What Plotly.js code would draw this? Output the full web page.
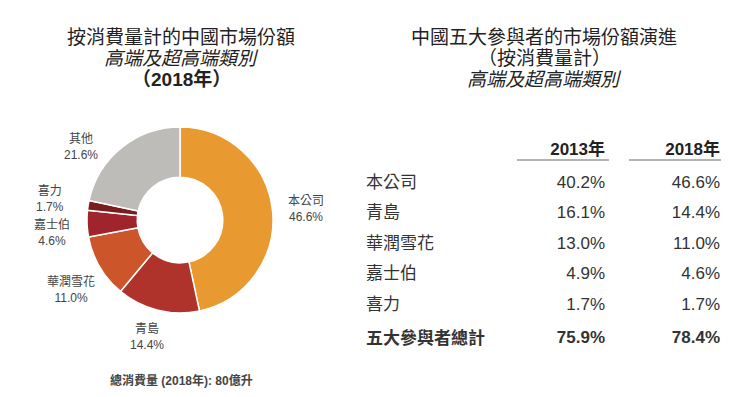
<!DOCTYPE html>
<html>
<head>
<meta charset="utf-8">
<script src="https://cdn.plot.ly/plotly-3.0.1.min.js"></script>
<style>html,body{margin:0;padding:0;background:#fff;}#chart{width:750px;height:397px;}</style>
</head>
<body>
<div id="chart"></div>
<script>
// ---- data ----
const pieLabels = ["本公司", "青島", "華潤雪花", "嘉士伯", "喜力", "其他"];
const pieValues = [46.6, 14.4, 11.0, 4.6, 1.7, 21.6];
const pieColors = ["#E89A30", "#B0332B", "#CC5529", "#A0242B", "#7A1D1D", "#BDBCB8"];

const tableRows = ["本公司", "青島", "華潤雪花", "嘉士伯", "喜力", "五大參與者總計"];
const share2013 = ["40.2%", "16.1%", "13.0%", "4.9%", "1.7%", "75.9%"];
const share2018 = ["46.6%", "14.4%", "11.0%", "4.6%", "1.7%", "78.4%"];
const tableHeaders = ["", "2013年", "2018年"];

const leftTitle = ["按消費量計的中國市場份額", "高端及超高端類別", "（2018年）"];
const rightTitle = ["中國五大參與者的市場份額演進", "（按消費量計）", "高端及超高端類別"];
const footnote = "總消費量 (2018年): 80億升";

// ---- chart ----
const FONT = "Liberation Sans, Arial, Noto Sans CJK TC, sans-serif";
const W = 750, H = 397;
const px = x => x / W;
const py = y => 1 - y / H;

// pie geometry (layout)
const PIE_CX = 180, PIE_CY = 220, PIE_R = 93, LABEL_D = 128;
// per-label pixel nudges to avoid overlaps (layout only)
const labelNudge = [[-1, 2], [-2, -8], [1, 5], [0, 7], [-4, -1], [-19, 27]];

const lastIdx = tableRows.length - 1;
const boldIf = (arr) => arr.map((v, i) => i === lastIdx ? "<b>" + v + "</b>" : v);

const pie = {
  type: "pie",
  labels: pieLabels,
  values: pieValues,
  sort: false,
  direction: "clockwise",
  rotation: 0,
  hole: 0.46,
  marker: {colors: pieColors, line: {color: "#ffffff", width: 1.5}},
  textinfo: "none",
  domain: {x: [px(PIE_CX - PIE_R), px(PIE_CX + PIE_R)], y: [py(PIE_CY + PIE_R), py(PIE_CY - PIE_R)]},
  showlegend: false,
  hoverinfo: "label+value"
};

const table = {
  type: "table",
  domain: {x: [px(358), px(728)], y: [py(360), py(131)]},
  columnwidth: [160, 95, 115],
  header: {
    values: tableHeaders.map(h => h ? "<b>" + h + "</b>" : ""),
    align: ["left", "right", "right"],
    height: 35,
    line: {color: "rgba(0,0,0,0)", width: 0},
    fill: {color: "#ffffff"},
    font: {family: FONT, size: 17, color: "#222"}
  },
  cells: {
    values: [boldIf(tableRows), boldIf(share2013), boldIf(share2018)],
    align: ["left", "right", "right"],
    height: 30.5,
    line: {color: "rgba(0,0,0,0)", width: 0},
    fill: {color: "#ffffff"},
    font: {family: FONT, size: 17, color: "#333"}
  }
};

const annotations = [];

// pie labels, placed at each slice's mid-angle computed from the values
const total = pieValues.reduce((a, b) => a + b, 0);
let cum = 0;
pieValues.forEach((v, i) => {
  const mid = (cum + v / 2) / total * 2 * Math.PI; // clockwise from top
  cum += v;
  const x = PIE_CX + LABEL_D * Math.sin(mid) + labelNudge[i][0];
  const y = PIE_CY - LABEL_D * Math.cos(mid) + labelNudge[i][1];
  annotations.push({
    text: pieLabels[i] + "<br>" + v.toFixed(1) + "%",
    x: px(x), y: py(y), xref: "paper", yref: "paper",
    showarrow: false, xanchor: "center", yanchor: "middle", align: "center",
    font: {family: FONT, size: 12, color: "#444"}
  });
});

const titleStyles = [
  [ {}, {italic: true}, {bold: true} ],
  [ {}, {}, {italic: true} ]
];
function fmt(t, s) {
  let r = t;
  if (s.bold) r = "<b>" + r + "</b>";
  if (s.italic) r = "<i>" + r + "</i>";
  return r;
}
const lineY = [37, 58, 79];
leftTitle.forEach((t, i) => annotations.push({
  text: fmt(t, titleStyles[0][i]), x: px(181), y: py(lineY[i]), xref: "paper", yref: "paper",
  showarrow: false, xanchor: "center", yanchor: "middle",
  font: {family: FONT, size: 19, color: "#222"}
}));
rightTitle.forEach((t, i) => annotations.push({
  text: fmt(t, titleStyles[1][i]), x: px(544), y: py(lineY[i]), xref: "paper", yref: "paper",
  showarrow: false, xanchor: "center", yanchor: "middle",
  font: {family: FONT, size: 19, color: "#222"}
}));
annotations.push({
  text: "<b>" + footnote + "</b>", x: px(181), y: py(380), xref: "paper", yref: "paper",
  showarrow: false, xanchor: "center", yanchor: "middle",
  font: {family: FONT, size: 12, color: "#444"}
});

const shapes = [
  {type: "line", xref: "paper", yref: "paper", x0: px(517), x1: px(609), y0: py(160), y1: py(160), line: {color: "#666", width: 1}},
  {type: "line", xref: "paper", yref: "paper", x0: px(629), x1: px(721), y0: py(160), y1: py(160), line: {color: "#666", width: 1}}
];

const layout = {
  width: W, height: H,
  margin: {l: 0, r: 0, t: 0, b: 0},
  paper_bgcolor: "#ffffff",
  plot_bgcolor: "#ffffff",
  showlegend: false,
  annotations: annotations,
  shapes: shapes
};

Plotly.newPlot("chart", [pie, table], layout, {displayModeBar: false, staticPlot: true});
</script>
</body>
</html>
